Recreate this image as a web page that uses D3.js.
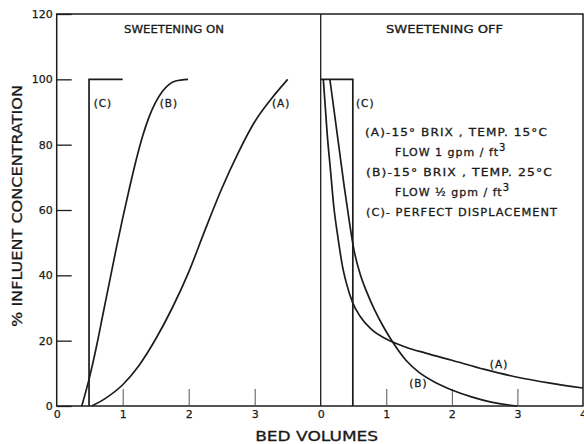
<!DOCTYPE html>
<html><head><meta charset="utf-8">
<script src="https://cdn.jsdelivr.net/npm/d3@7"></script>
<style>
body{margin:0;background:#fff}
text{font-family:"DejaVu Sans",sans-serif;fill:#1a1a1a}
</style></head>
<body><svg id="c" width="584" height="444"></svg>
<script>
// ---- data ----
const yTicks = [0, 20, 40, 60, 80, 100, 120];
const xTicksOn = [0, 1, 2, 3];
const xTicksOff = [0, 1, 2, 3, 4];
// Sweetening ON (bed volumes, % influent)
const onA = [[0.53,0],[0.75,2.5],[1.0,6.5],[1.25,12.5],[1.5,20.5],[1.75,30],[2.0,41],[2.25,54],[2.5,66.5],[2.75,77.5],[3.0,87],[3.25,94],[3.5,100]];
const onB = [[0.38,0],[0.5,9],[0.6,18],[0.7,28],[0.8,38],[0.9,48],[1.0,57.5],[1.1,66.5],[1.2,75],[1.3,82.5],[1.4,88.5],[1.5,93],[1.6,96.3],[1.7,98.4],[1.8,99.5],[1.99,100]];
const onC = [[0.49,0],[0.49,100],[1.0,100]];
// Sweetening OFF
const offA = [[0.04,100],[0.1,83],[0.15,72],[0.2,61],[0.26,52],[0.33,43],[0.4,37],[0.49,31.5],[0.6,27.5],[0.77,23.5],[1.0,20.5],[1.3,18],[1.6,16.2],[2.0,14],[2.5,11.2],[3.0,8.8],[3.5,7],[4.0,5.5]];
const offB = [[0.14,100],[0.2,91],[0.28,79],[0.36,67],[0.44,56],[0.51,47.5],[0.6,40.5],[0.7,35],[0.82,29.5],[0.95,24.5],[1.1,19.5],[1.3,14],[1.5,10.3],[1.75,7.2],[2.0,4.9],[2.3,2.8],[2.6,1.2],[2.87,0.3],[3.0,0]];
const offC = [[0,100],[0.49,100],[0.49,0]];
const panelTitles = ["SWEETENING ON", "SWEETENING OFF"];
const legendLines = ["(A)-15° BRIX , TEMP. 15°C", "FLOW 1 gpm / ft", "(B)-15° BRIX , TEMP. 25°C", "FLOW ½ gpm / ft", "(C)- PERFECT DISPLACEMENT"];

// ---- layout ----
const svg = d3.select("#c");
const ink = "#1c1c1c";
const y = d3.scaleLinear().domain([0,120]).range([406,14]);
const xOn = d3.scaleLinear().domain([0,4]).range([56.7,320.7]);
const xOff = d3.scaleLinear().domain([0,4]).range([320.7,583]);

// frame
svg.append("rect").attr("x",xOn(0)).attr("y",y(120)).attr("width",xOff(4)-xOn(0)).attr("height",y(0)-y(120))
  .attr("fill","none").attr("stroke",ink).attr("stroke-width",1.5);
svg.append("line").attr("x1",xOff(0)).attr("x2",xOff(0)).attr("y1",y(120)).attr("y2",y(0)).attr("stroke",ink).attr("stroke-width",1.3);

// y axis
const ya = svg.append("g").attr("transform",`translate(${xOn(0)},0)`)
  .call(d3.axisLeft(y).tickValues(yTicks).tickFormat(d3.format("d")).tickSizeInner(-15).tickSizeOuter(0).tickPadding(4));
ya.select(".domain").remove();
ya.selectAll("line").attr("stroke",ink).attr("stroke-width",1.3);
ya.selectAll("text").attr("font-size",11).attr("font-family","DejaVu Sans").attr("fill",ink)
  .attr("stroke",ink).attr("stroke-width",0.25);

// x axes
function xAxis(sc, ticks){
  const g = svg.append("g").attr("transform",`translate(0,${y(0)})`)
    .call(d3.axisBottom(sc).tickValues(ticks).tickFormat(d3.format("d")).tickSizeInner(-17).tickSizeOuter(0).tickPadding(4));
  g.select(".domain").remove();
  g.selectAll("line").attr("stroke","#555").attr("stroke-width",1);
  g.selectAll(".tick").filter(d=>d===0).select("line").remove();
  g.selectAll("text").attr("font-size",11).attr("font-family","DejaVu Sans").attr("fill",ink)
    .attr("stroke",ink).attr("stroke-width",0.25);
  return g;
}
xAxis(xOn, xTicksOn);
xAxis(xOff, xTicksOff);

// curves
const lineOn = d3.line().x(d=>xOn(d[0])).y(d=>y(d[1])).curve(d3.curveMonotoneX);
const lineOff = d3.line().x(d=>xOff(d[0])).y(d=>y(d[1])).curve(d3.curveMonotoneX);
const lineOnL = d3.line().x(d=>xOn(d[0])).y(d=>y(d[1]));
const lineOffL = d3.line().x(d=>xOff(d[0])).y(d=>y(d[1]));
function path(d, gen, w){
  svg.append("path").attr("d",gen(d)).attr("fill","none").attr("stroke",ink).attr("stroke-width",w);
}
path(onA, lineOn, 1.7); path(onB, lineOn, 1.7); path(onC, lineOnL, 1.7);
path(offA, lineOff, 1.7); path(offB, lineOff, 1.7); path(offC, lineOffL, 1.7);

// curve labels
const lab = (x,yy,t)=>svg.append("text").attr("x",x).attr("y",yy).attr("text-anchor","middle")
  .attr("font-size",10.5).attr("letter-spacing",1).attr("stroke",ink).attr("stroke-width",0.3).text(t);
lab(xOn(0.7),107,"(C)"); lab(xOn(1.7),107,"(B)"); lab(xOn(3.4),107,"(A)");
lab(xOff(0.68),107,"(C)"); lab(xOff(2.72),368,"(A)"); lab(xOff(1.49),387,"(B)");

// panel titles
svg.append("text").attr("x",174).attr("y",33).attr("text-anchor","middle").attr("font-size",10.5)
  .attr("stroke",ink).attr("stroke-width",0.3)
  .attr("textLength",100).attr("lengthAdjust","spacingAndGlyphs").text(panelTitles[0]);
svg.append("text").attr("x",444.5).attr("y",33).attr("text-anchor","middle").attr("font-size",10.5)
  .attr("stroke",ink).attr("stroke-width",0.3)
  .attr("textLength",117).attr("lengthAdjust","spacingAndGlyphs").text(panelTitles[1]);

// legend
const lg = [[365,136,183],[395,156,null],[366,176,187],[395,196,null],[366,216,192]];
legendLines.forEach((t,i)=>{
  const tx = svg.append("text").attr("x",lg[i][0]).attr("y",lg[i][1]).attr("font-size",11)
    .attr("letter-spacing",1).attr("stroke",ink).attr("stroke-width",0.3);
  if(lg[i][2]) tx.attr("textLength",lg[i][2]).attr("lengthAdjust","spacingAndGlyphs").text(t);
  else { tx.text(t); tx.append("tspan").attr("dy",-5).attr("font-size",10).text("3"); }
});

// axis titles
svg.append("text").attr("x",316.7).attr("y",441).attr("text-anchor","middle").attr("font-size",13.5)
  .attr("stroke",ink).attr("stroke-width",0.3)
  .attr("textLength",123).attr("lengthAdjust","spacingAndGlyphs").text("BED VOLUMES");
svg.append("text").attr("transform","translate(22,206) rotate(-90)").attr("text-anchor","middle").attr("font-size",14)
  .attr("stroke",ink).attr("stroke-width",0.3)
  .attr("textLength",242).attr("lengthAdjust","spacingAndGlyphs").text("% INFLUENT CONCENTRATION");
</script>
</body></html>
